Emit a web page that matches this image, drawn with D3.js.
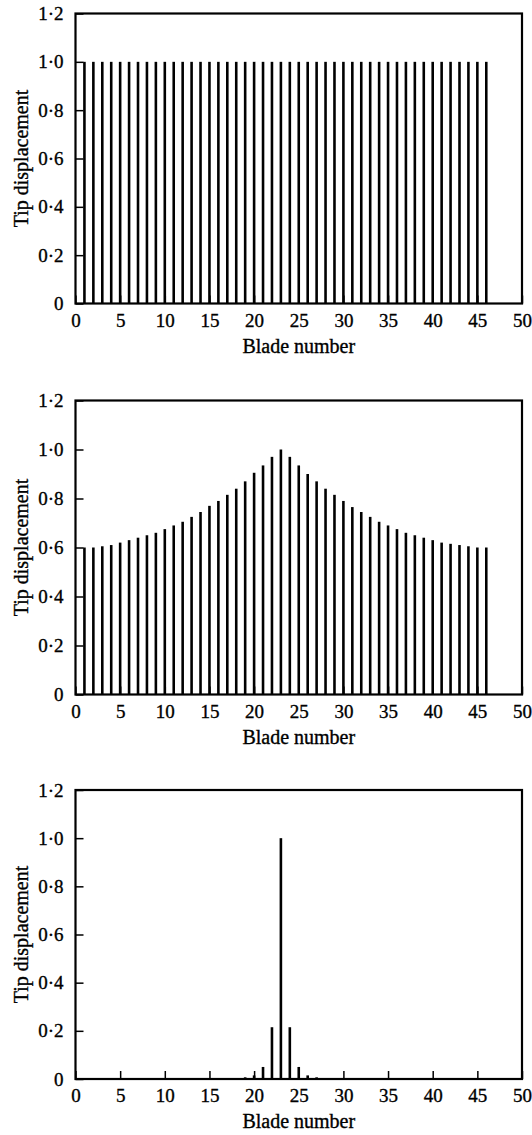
<!DOCTYPE html>
<html>
<head>
<meta charset="utf-8">
<script src="https://cdn.jsdelivr.net/npm/d3@7"></script>
<style>
  body { margin: 0; background: #fff; }
  svg text { font-family: "Liberation Serif", "Times New Roman", "DejaVu Serif", serif; fill: #000; }
</style>
</head>
<body>
<div id="chart"></div>
<script>
// blade numbers 1..46
var blades = [1, 2, 3, 4, 5, 6, 7, 8, 9, 10, 11, 12, 13, 14, 15, 16, 17, 18, 19, 20, 21, 22, 23,
    24, 25, 26, 27, 28, 29, 30, 31, 32, 33, 34, 35, 36, 37, 38, 39, 40, 41, 42, 43, 44, 45, 46]

// tuned system: every blade the same
var tipTuned = [1, 1, 1, 1, 1, 1, 1, 1, 1, 1, 1, 1, 1, 1, 1, 1, 1, 1, 1, 1, 1, 1, 1,
    1, 1, 1, 1, 1, 1, 1, 1, 1, 1, 1, 1, 1, 1, 1, 1, 1, 1, 1, 1, 1, 1, 1]

// weakly localised mode
var tipWeak = [0.60, 0.60, 0.605, 0.61, 0.62, 0.63, 0.64, 0.65, 0.66, 0.675, 0.69, 0.705, 0.725,
    0.745, 0.77, 0.79, 0.815, 0.84, 0.87, 0.905, 0.935, 0.97, 1.0,
    0.97, 0.935, 0.90, 0.87, 0.84, 0.815, 0.79, 0.765, 0.745, 0.725, 0.705, 0.69, 0.675,
    0.66, 0.65, 0.64, 0.63, 0.62, 0.615, 0.61, 0.605, 0.60, 0.60]

// strongly localised mode
var tipStrong = [0, 0, 0, 0, 0, 0, 0, 0, 0, 0, 0, 0, 0, 0, 0, 0, 0, 0.002, 0.007, 0.015, 0.05, 0.215, 1.0,
    0.215, 0.05, 0.015, 0.007, 0.002, 0, 0, 0, 0, 0, 0, 0, 0, 0, 0, 0, 0, 0, 0, 0, 0, 0, 0]

var xTicks = [0, 5, 10, 15, 20, 25, 30, 35, 40, 45, 50]
var yTicks = [0, 0.2, 0.4, 0.6, 0.8, 1.0, 1.2]
var xLabel = "Blade number"
var yLabel = "Tip displacement"

var width = 532, height = 1135
var panels = [
    { values: tipTuned, top: 13.5, bottom: 303.5 },
    { values: tipWeak, top: 400.5, bottom: 694.5 },
    { values: tipStrong, top: 790, bottom: 1079 }
]
var left = 75.5, right = 522

var svg = d3.select("#chart")
    .append("svg")
    .attr("width", width)
    .attr("height", height)

var x = d3.scaleLinear().domain([0, 50]).range([left, right])

function fmt(v) {
    if (v === 0) return "0"
    return d3.format(".1f")(v).replace(".", "\u00b7")
}

panels.forEach(function(p) {
    var y = d3.scaleLinear().domain([0, 1.2]).range([p.bottom, p.top])
    var g = svg.append("g")

    // bars (thin vertical lines)
    g.selectAll("line.bar")
        .data(blades)
        .enter()
        .append("line")
        .attr("class", "bar")
        .attr("x1", function(d) { return x(d) })
        .attr("x2", function(d) { return x(d) })
        .attr("y1", y(0))
        .attr("y2", function(d, i) { return y(p.values[i]) })
        .attr("stroke", "#000")
        .attr("stroke-width", 2.6)

    // axes with inward ticks
    var xAxis = g.append("g")
        .attr("transform", "translate(0," + p.bottom + ")")
        .call(d3.axisBottom(x).tickValues(xTicks).tickSizeInner(-8).tickSizeOuter(0)
            .tickPadding(10).tickFormat(d3.format("d")))
    var yAxis = g.append("g")
        .attr("transform", "translate(" + left + ",0)")
        .call(d3.axisLeft(y).tickValues(yTicks).tickSizeInner(-8).tickSizeOuter(0)
            .tickPadding(12).tickFormat(fmt))

    ;[xAxis, yAxis].forEach(function(a) {
        a.select(".domain").remove()
        a.selectAll(".tick line").attr("stroke", "#000").attr("stroke-width", 1.5)
        a.selectAll(".tick text")
            .style("font-family", '"Liberation Serif", "DejaVu Serif", serif')
            .style("font-size", "19px")
            .attr("fill", "#000")
            .attr("stroke", "#000")
            .attr("stroke-width", 0.35)
    })

    // frame
    g.append("rect")
        .attr("x", left)
        .attr("y", p.top)
        .attr("width", right - left)
        .attr("height", p.bottom - p.top)
        .attr("fill", "none")
        .attr("stroke", "#000")
        .attr("stroke-width", 2.2)

    g.append("text")
        .attr("x", (left + right) / 2)
        .attr("y", p.bottom + 49)
        .attr("text-anchor", "middle")
        .attr("stroke", "#000")
        .attr("stroke-width", 0.35)
        .style("font-size", "20px")
        .text(xLabel)

    g.append("text")
        .attr("transform", "translate(28," + ((p.top + p.bottom) / 2) + ") rotate(-90)")
        .attr("text-anchor", "middle")
        .attr("stroke", "#000")
        .attr("stroke-width", 0.35)
        .style("font-size", "20px")
        .text(yLabel)
})
</script>
</body>
</html>
